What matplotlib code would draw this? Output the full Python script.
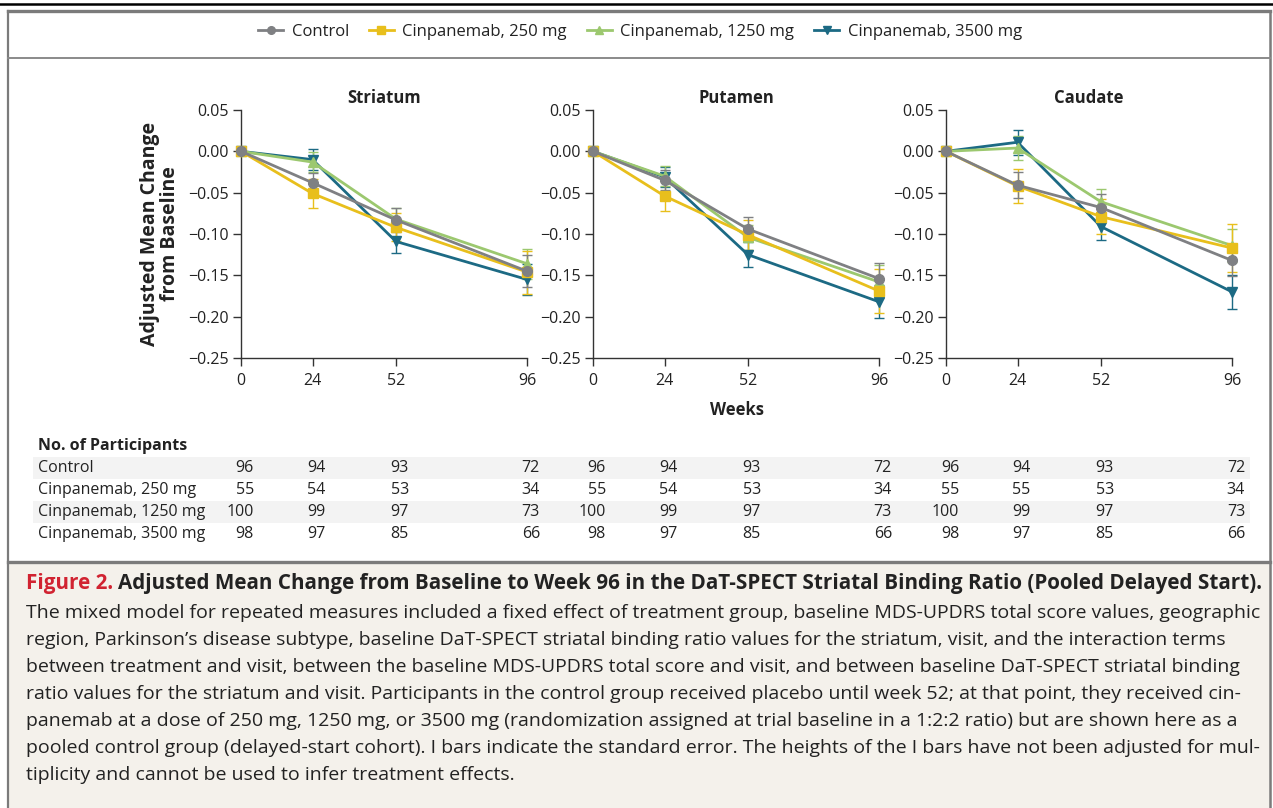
import matplotlib
matplotlib.use("Agg")
import matplotlib.pyplot as plt
import matplotlib.transforms as mtransforms
from matplotlib.lines import Line2D
from matplotlib.patches import Rectangle

plt.rcParams['font.family'] = ['Open Sans', 'DejaVu Sans']

# ---------------- data ----------------
weeks = [0, 24, 52, 96]
groups = ["Control", "Cinpanemab, 250 mg", "Cinpanemab, 1250 mg", "Cinpanemab, 3500 mg"]
panels = ["Striatum", "Putamen", "Caudate"]

striatum_mean = {
    "Control": [0, -0.038, -0.083, -0.145],
    "Cinpanemab, 250 mg": [0, -0.051, -0.092, -0.146],
    "Cinpanemab, 1250 mg": [0, -0.013, -0.082, -0.136],
    "Cinpanemab, 3500 mg": [0, -0.010, -0.109, -0.155],
}
striatum_se = {
    "Control": [0, 0.012, 0.014, 0.019],
    "Cinpanemab, 250 mg": [0, 0.018, 0.017, 0.026],
    "Cinpanemab, 1250 mg": [0, 0.012, 0.014, 0.018],
    "Cinpanemab, 3500 mg": [0, 0.013, 0.014, 0.019],
}
putamen_mean = {
    "Control": [0, -0.035, -0.094, -0.154],
    "Cinpanemab, 250 mg": [0, -0.054, -0.101, -0.169],
    "Cinpanemab, 1250 mg": [0, -0.030, -0.104, -0.158],
    "Cinpanemab, 3500 mg": [0, -0.031, -0.125, -0.182],
}
putamen_se = {
    "Control": [0, 0.012, 0.015, 0.019],
    "Cinpanemab, 250 mg": [0, 0.018, 0.018, 0.027],
    "Cinpanemab, 1250 mg": [0, 0.012, 0.015, 0.020],
    "Cinpanemab, 3500 mg": [0, 0.012, 0.015, 0.020],
}
caudate_mean = {
    "Control": [0, -0.041, -0.068, -0.132],
    "Cinpanemab, 250 mg": [0, -0.042, -0.079, -0.117],
    "Cinpanemab, 1250 mg": [0, 0.004, -0.061, -0.114],
    "Cinpanemab, 3500 mg": [0, 0.011, -0.091, -0.170],
}
caudate_se = {
    "Control": [0, 0.016, 0.016, 0.019],
    "Cinpanemab, 250 mg": [0, 0.021, 0.021, 0.029],
    "Cinpanemab, 1250 mg": [0, 0.015, 0.016, 0.020],
    "Cinpanemab, 3500 mg": [0, 0.015, 0.016, 0.021],
}
means = [striatum_mean, putamen_mean, caudate_mean]
ses = [striatum_se, putamen_se, caudate_se]

n_striatum = {
    "Control": [96, 94, 93, 72],
    "Cinpanemab, 250 mg": [55, 54, 53, 34],
    "Cinpanemab, 1250 mg": [100, 99, 97, 73],
    "Cinpanemab, 3500 mg": [98, 97, 85, 66],
}
n_putamen = {
    "Control": [96, 94, 93, 72],
    "Cinpanemab, 250 mg": [55, 54, 53, 34],
    "Cinpanemab, 1250 mg": [100, 99, 97, 73],
    "Cinpanemab, 3500 mg": [98, 97, 85, 66],
}
n_caudate = {
    "Control": [96, 94, 93, 72],
    "Cinpanemab, 250 mg": [55, 55, 53, 34],
    "Cinpanemab, 1250 mg": [100, 99, 97, 73],
    "Cinpanemab, 3500 mg": [98, 97, 85, 66],
}
counts = [n_striatum, n_putamen, n_caudate]

yticks = [0.05, 0.00, -0.05, -0.10, -0.15, -0.20, -0.25]

colors = {
    "Control": "#7f8083",
    "Cinpanemab, 250 mg": "#e8bf1c",
    "Cinpanemab, 1250 mg": "#9cc86f",
    "Cinpanemab, 3500 mg": "#1c6a84",
}
markers = {
    "Control": "o",
    "Cinpanemab, 250 mg": "s",
    "Cinpanemab, 1250 mg": "^",
    "Cinpanemab, 3500 mg": "v",
}
draw_order = ["Cinpanemab, 3500 mg", "Cinpanemab, 1250 mg", "Cinpanemab, 250 mg", "Control"]

caption_title = "Adjusted Mean Change from Baseline to Week 96 in the DaT-SPECT Striatal Binding Ratio (Pooled Delayed Start)."
caption_lines = [
    "The mixed model for repeated measures included a fixed effect of treatment group, baseline MDS-UPDRS total score values, geographic",
    "region, Parkinson\u2019s disease subtype, baseline DaT-SPECT striatal binding ratio values for the striatum, visit, and the interaction terms",
    "between treatment and visit, between the baseline MDS-UPDRS total score and visit, and between baseline DaT-SPECT striatal binding",
    "ratio values for the striatum and visit. Participants in the control group received placebo until week 52; at that point, they received cin-",
    "panemab at a dose of 250 mg, 1250 mg, or 3500 mg (randomization assigned at trial baseline in a 1:2:2 ratio) but are shown here as a",
    "pooled control group (delayed-start cohort). I bars indicate the standard error. The heights of the I bars have not been adjusted for mul-",
    "tiplicity and cannot be used to infer treatment effects.",
]

# ---------------- figure ----------------
W, H = 1273, 808
fig = plt.figure(figsize=(W / 100, H / 100), dpi=100)
fig.patch.set_facecolor("white")
renderer = fig.canvas.get_renderer()

def fx(px):
    return px / W

def fy(py):
    return 1 - py / H

def fit_width(txt, target_px):
    w = txt.get_window_extent(renderer).width
    txt.set_fontsize(txt.get_fontsize() * target_px / w)
    return txt.get_fontsize()

# frame / decoration
frame_col = "#7b7b7b"
fig.add_artist(Rectangle((fx(8), fy(808)), fx(1270) - fx(8), fy(562) - fy(808),
                         transform=fig.transFigure, facecolor="#f4f1eb", edgecolor="none", zorder=0))
fig.add_artist(Line2D([0, 1], [fy(4), fy(4)], transform=fig.transFigure, color="black", lw=1.8))
fig.add_artist(Line2D([fx(8), fx(1270)], [fy(11), fy(11)], transform=fig.transFigure, color=frame_col, lw=2.4))
fig.add_artist(Line2D([fx(8), fx(8)], [fy(11), fy(808)], transform=fig.transFigure, color=frame_col, lw=1.6))
fig.add_artist(Line2D([fx(1270), fx(1270)], [fy(11), fy(808)], transform=fig.transFigure, color=frame_col, lw=1.8))
fig.add_artist(Line2D([fx(8), fx(1270)], [fy(58), fy(58)], transform=fig.transFigure, color="#8a8a8a", lw=1.4))
fig.add_artist(Line2D([fx(8), fx(1270)], [fy(562), fy(562)], transform=fig.transFigure, color=frame_col, lw=2.4))

# axes
ax_left_px = [241, 593, 946]
ax_w_px = 286
ax_top_px, ax_bot_px = 110, 358
axes = []
for i, name in enumerate(panels):
    ax = fig.add_axes([fx(ax_left_px[i]), fy(ax_bot_px), fx(ax_w_px), (ax_bot_px - ax_top_px) / H])
    axes.append(ax)
    for g in draw_order:
        m = means[i][g]
        e = ses[i][g]
        ax.errorbar(weeks, m, yerr=e, color=colors[g], lw=2.0, marker=markers[g], ms=7,
                    elinewidth=1.0, capsize=3.5, capthick=1.0, clip_on=False, zorder=3)
    ax.set_xlim(0, 96)
    ax.set_ylim(-0.25, 0.05)
    ax.set_xticks(weeks)
    ax.set_xticklabels([str(w) for w in weeks])
    ax.set_yticks(yticks)
    ax.set_yticklabels([f"{t:.2f}".replace("-", "\u2212") for t in yticks])
    for s in ["top", "right"]:
        ax.spines[s].set_visible(False)
    for s in ["left", "bottom"]:
        ax.spines[s].set_color("#333333")
        ax.spines[s].set_linewidth(1.0)
    ax.tick_params(direction="out", length=6, width=1.0, color="#333333",
                   labelsize=11.5, labelcolor="#222222", pad=3)
    ax.tick_params(axis="x", pad=5)
    ax.set_facecolor("none")
    ax.set_title(name, fontsize=12, fontweight="bold", color="#222222", pad=5)

axes[0].set_ylabel("Adjusted Mean Change\nfrom Baseline", fontsize=14, fontweight="bold",
                   color="#222222", labelpad=6, linespacing=0.95)

fig.text(fx(737), fy(410), "Weeks", ha="center", va="center", fontsize=12,
         fontweight="bold", color="#222222")

# legend
handles = [Line2D([], [], color=colors[g], marker=markers[g], lw=2.0, ms=5.5) for g in groups]
fig.legend(handles, groups, loc="center", bbox_to_anchor=(fx(640), fy(32)), ncol=4,
           frameon=False, fontsize=12, handlelength=1.5, columnspacing=1.2,
           handletextpad=0.5, labelcolor="#222222")

# participants table
row_y_px = [468, 490, 512, 534]
fig.text(fx(38), fy(446), "No. of Participants", ha="left", va="center", fontsize=11.5,
         fontweight="bold", color="#222222")
for r, g in enumerate(groups):
    if r % 2 == 0:
        fig.add_artist(Rectangle((fx(33), fy(row_y_px[r] + 11)), fx(1250) - fx(33), 22 / H,
                                 transform=fig.transFigure, facecolor="#f3f3f3",
                                 edgecolor="none", zorder=0))
    fig.text(fx(38), fy(row_y_px[r]), g, ha="left", va="center", fontsize=11.5, color="#222222")
    for i, ax in enumerate(axes):
        tr = mtransforms.blended_transform_factory(ax.transData, fig.transFigure)
        tr = mtransforms.offset_copy(tr, fig=fig, x=13, y=0, units="dots")
        for k, w in enumerate(weeks):
            fig.text(w, fy(row_y_px[r]), str(counts[i][g][k]), transform=tr, ha="right",
                     va="center", fontsize=11.5, color="#222222")

# caption
t1 = fig.text(fx(26), fy(583), "Figure 2.", ha="left", va="center", fontsize=12.5,
              fontweight="bold", color="#d12331")
t2 = fig.text(fx(26), fy(583), "Figure 2. " + caption_title, ha="left", va="center",
              fontsize=12.5, fontweight="bold", color="#222222")
fs_title = fit_width(t2, 1262 - 26)
t1.set_fontsize(fs_title)
bb = t1.get_window_extent(renderer)
t2.set_text(caption_title)
t2.set_x(bb.x1 / W + fx(5))

body = []
for j, line in enumerate(caption_lines):
    body.append(fig.text(fx(26), fy(613 + 27 * j), line, ha="left", va="center",
                         fontsize=12.5, color="#222222"))
fs_body = fit_width(body[0], 1262 - 26)
for t in body:
    t.set_fontsize(fs_body)

fig.savefig("out.png", dpi=100, facecolor=fig.get_facecolor())
